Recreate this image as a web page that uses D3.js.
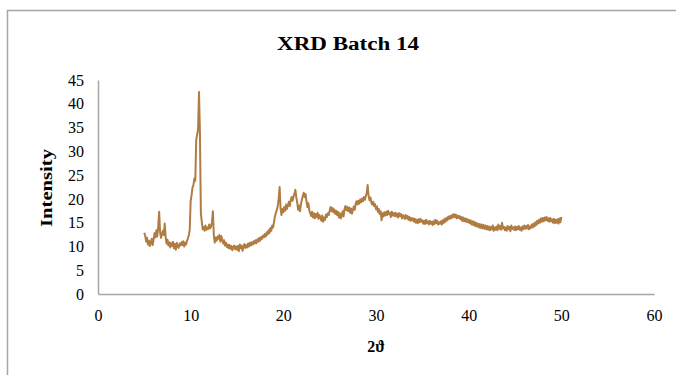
<!DOCTYPE html>
<html>
<head>
<meta charset="utf-8">
<script src="https://cdn.jsdelivr.net/npm/d3@7"></script>
<style>
  body { margin: 0; background: #fff; }
  svg text { font-family: "Liberation Serif", "DejaVu Serif", serif; fill: #000; }
</style>
</head>
<body>
<div id="chart"></div>
<script>
// scan settings (2theta, degrees)
const startAngle = 5.0;
const angleStep = 0.1;

// intensity, one row per degree (5.0 .. 50.0)
const intensity = [
  12.9, 12.2, 11.0, 11.8, 10.4, 11.2, 10.1, 10.9, 11.6, 10.3,
  11.5, 12.8, 11.9, 13.4, 12.1, 14.2, 17.3, 13.0, 11.8, 12.6,
  13.3, 12.4, 14.8, 12.0, 10.6, 11.4, 10.2, 10.9, 9.8, 10.7,
  10.1, 11.0, 9.6, 10.5, 9.3, 10.8, 10.0, 9.7, 10.6, 10.2,
  10.9, 10.3, 11.1, 10.0, 10.8, 10.4, 11.2, 11.6, 12.4, 13.5,
  19.6, 20.8, 22.4, 22.9, 24.3, 23.8, 32.4, 33.5, 34.6, 42.5,
  33.8, 17.0, 15.2, 13.6, 14.1, 13.3, 14.4, 13.5, 14.0, 13.7,
  14.6, 13.8, 14.2, 15.1, 17.4, 12.3, 10.8, 11.9, 11.2, 12.1,
  11.6, 12.4, 11.0, 12.2, 11.5, 10.6, 11.3, 10.2, 10.8, 9.9,
  10.4, 9.6, 10.3, 9.5, 10.1, 9.2, 9.9, 10.2, 9.4, 10.0,
  9.3, 10.1, 9.0, 10.4, 9.6, 10.2, 9.1, 9.8, 10.5, 9.7,
  10.3, 9.8, 10.6, 10.0, 10.8, 10.2, 10.9, 10.4, 11.1, 10.6,
  11.3, 10.7, 11.5, 11.0, 11.8, 11.2, 12.0, 11.6, 12.3, 11.9,
  12.6, 12.1, 13.0, 12.5, 13.4, 12.8, 13.9, 13.3, 14.4, 14.0,
  15.2, 16.4, 17.1, 17.7, 18.5, 20.1, 22.5, 18.0, 16.6, 17.9,
  17.2, 18.3, 17.5, 18.8, 17.9, 18.6, 19.4, 18.5, 19.8, 20.4,
  19.6, 20.5, 21.1, 21.9, 20.3, 19.2, 17.7, 18.6, 17.4, 18.9,
  19.8, 20.6, 21.3, 20.4, 21.0, 19.5, 18.3, 19.1, 17.6, 17.0,
  16.4, 17.3, 16.1, 17.0, 15.9, 16.8, 16.2, 17.1, 15.8, 16.6,
  16.0, 15.4, 16.5, 15.2, 16.1, 15.6, 16.7, 16.2, 17.0, 16.6,
  17.5, 18.3, 17.4, 18.1, 17.2, 17.8, 16.8, 17.5, 16.6, 17.3,
  16.1, 17.0, 15.9, 16.6, 17.4, 16.3, 17.8, 18.5, 17.6, 18.3,
  17.4, 18.2, 17.1, 18.0, 16.9, 17.6, 18.4, 17.7, 18.9, 19.5,
  18.8, 19.6, 19.0, 19.9, 19.3, 20.1, 19.5, 20.4, 19.8, 20.6,
  21.2, 22.9, 20.6, 19.7, 20.3, 19.2, 18.8, 19.4, 18.5, 18.9,
  17.8, 18.4, 17.3, 17.9, 16.8, 17.4, 15.5, 17.0, 16.3, 17.2,
  16.5, 17.3, 16.6, 17.5, 16.8, 17.1, 16.2, 17.3, 16.5, 17.0,
  16.4, 17.1, 16.3, 16.9, 16.1, 17.0, 16.4, 16.8, 15.9, 16.6,
  16.3, 15.8, 16.6, 15.9, 16.4, 15.6, 16.2, 15.4, 16.0, 15.5,
  15.9, 15.2, 15.8, 15.0, 15.6, 14.9, 15.7, 15.1, 15.8, 15.2,
  15.5, 14.8, 15.4, 14.7, 15.6, 14.9, 15.3, 14.6, 15.4, 14.8,
  15.2, 14.5, 15.3, 14.7, 15.6, 14.9, 15.4, 14.6, 15.1, 14.8,
  15.3, 14.6, 15.5, 14.9, 15.8, 15.2, 16.0, 15.5, 16.3, 15.8,
  16.4, 15.9, 16.6, 16.1, 16.8, 16.2, 16.7, 15.9, 16.5, 16.0,
  16.4, 15.7, 16.2, 15.4, 16.1, 15.3, 15.9, 15.2, 15.8, 15.1,
  15.6, 14.9, 15.5, 14.6, 15.3, 14.5, 15.2, 14.3, 15.0, 14.2,
  14.8, 14.0, 14.7, 13.9, 14.6, 13.8, 14.5, 13.7, 14.4, 13.6,
  14.3, 13.5, 14.2, 13.4, 14.1, 13.6, 14.4, 13.3, 14.0, 13.5,
  14.2, 13.4, 14.6, 13.7, 14.3, 13.5, 15.0, 13.8, 14.1, 13.4,
  14.0, 13.3, 14.3, 13.6, 14.1, 13.2, 14.4, 13.7, 14.0, 13.5,
  14.2, 13.4, 14.1, 13.6, 14.3, 13.5, 14.0, 13.3, 14.2, 13.6,
  14.4, 13.7, 14.3, 13.8, 14.5, 13.6, 14.2, 13.9, 14.6, 14.0,
  14.8, 14.2, 15.1, 14.5, 15.4, 14.8, 15.6, 15.0, 15.9, 15.2,
  16.0, 15.3, 16.1, 15.5, 16.2, 15.4, 15.9, 15.2, 16.0, 15.3,
  15.7, 15.0, 15.8, 14.9, 15.6, 15.0, 15.7, 14.8, 15.9, 15.1,
  16.2
];

const xTicks = [0, 10, 20, 30, 40, 50, 60];
const yTicks = [0, 5, 10, 15, 20, 25, 30, 35, 40, 45];

const width = 676, height = 375;
const margin = { top: 80, right: 22, bottom: 81, left: 98 };

const svg = d3.select("#chart").append("svg")
  .attr("width", width)
  .attr("height", height);

// chart frame (only top and left edges are inside the picture)
svg.append("rect")
  .attr("x", 7.5).attr("y", 10.5)
  .attr("width", 720).attr("height", 420)
  .attr("fill", "none")
  .attr("stroke", "#a6a6a6")
  .attr("stroke-width", 1.5);

const x = d3.scaleLinear().domain([0, 60]).range([margin.left, width - margin.right]);
const y = d3.scaleLinear().domain([0, 45]).range([height - margin.bottom, margin.top]);

const points = intensity.map((v, i) => [startAngle + i * angleStep, v]);

// axes
const xAxis = svg.append("g")
  .attr("transform", "translate(0," + y(0) + ")")
  .call(d3.axisBottom(x).tickValues(xTicks).tickSize(0).tickPadding(16));
const yAxis = svg.append("g")
  .attr("transform", "translate(" + x(0) + ",0)")
  .call(d3.axisLeft(y).tickValues(yTicks).tickSize(0).tickPadding(14));

[xAxis, yAxis].forEach(function (g) {
  g.select(".domain").attr("stroke", "#a6a6a6").attr("stroke-width", 1.5);
  g.selectAll("text")
    .style("font-family", '"Liberation Serif", serif')
    .style("font-size", "16px")
    .attr("fill", "#000");
});

// data line
svg.append("path")
  .datum(points)
  .attr("fill", "none")
  .attr("stroke", "#b07c42")
  .attr("stroke-width", 2)
  .attr("stroke-linejoin", "round")
  .attr("d", d3.line()
    .x(function (d) { return x(d[0]); })
    .y(function (d) { return y(d[1]); }));

// titles
svg.append("text")
  .attr("x", 348).attr("y", 50)
  .attr("text-anchor", "middle")
  .attr("textLength", 142)
  .attr("lengthAdjust", "spacingAndGlyphs")
  .style("font-size", "18px")
  .style("font-weight", "bold")
  .text("XRD Batch 14");

svg.append("text")
  .attr("transform", "translate(52,188) rotate(-90)")
  .attr("text-anchor", "middle")
  .attr("textLength", 78)
  .attr("lengthAdjust", "spacingAndGlyphs")
  .style("font-size", "16px")
  .style("font-weight", "bold")
  .text("Intensity");

svg.append("text")
  .attr("x", 376).attr("y", 352)
  .attr("text-anchor", "middle")
  .style("font-size", "16px")
  .style("font-weight", "bold")
  .text("2ϑ");
</script>
</body>
</html>
